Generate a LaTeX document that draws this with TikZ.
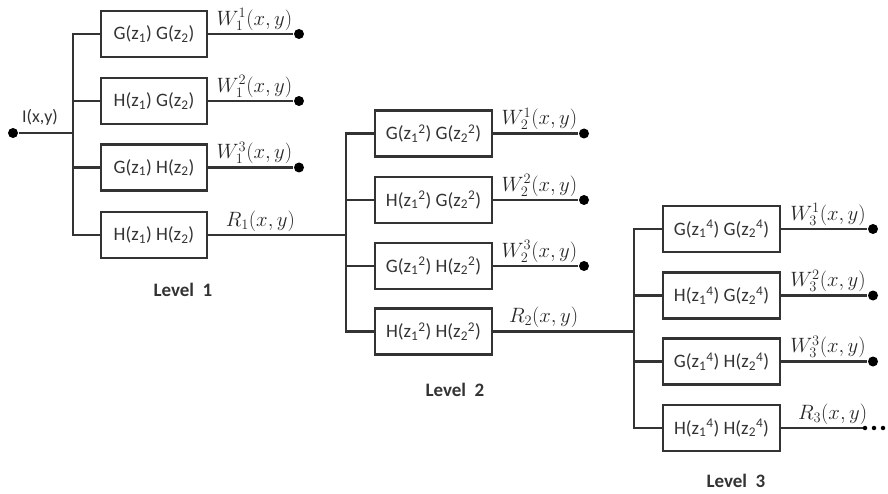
\documentclass[tikz,border=0pt]{standalone}
\usepackage{fontspec}
\setmainfont{Carlito}
\begin{document}
\begin{tikzpicture}[x=1pt,y=-1pt,
  line width=2.2pt, draw=black!80,
  boxa/.style={draw=black!80, line width=2.2pt, minimum width=106pt, minimum height=46pt, inner sep=0pt, font=\fontsize{19}{21}\selectfont, text=black!80},
  boxb/.style={boxa, minimum width=117pt},
  endpt/.style={circle, fill=black, inner sep=0pt, minimum size=10pt},
  smalldot/.style={circle, fill=black, inner sep=0pt, minimum size=4.5pt},
  lbl/.style={font=\fontsize{20.74}{22}\selectfont, text=black!85, inner sep=2.5pt, xshift=4pt},
  lvl/.style={font=\bfseries\fontsize{19}{21}\selectfont, text=black!80}]
\useasboundingbox (0,0) rectangle (888,494);
\newcommand{\zz}[2]{z\textsubscript{#1}\textsuperscript{#2}}
% Level 1
\node[boxa] (b11) at (154,34) {G(z\textsubscript{1}) G(z\textsubscript{2})};
\node[boxa] (b12) at (154,101) {H(z\textsubscript{1}) G(z\textsubscript{2})};
\node[boxa] (b13) at (154,167.5) {G(z\textsubscript{1}) H(z\textsubscript{2})};
\node[boxa] (b14) at (154,235) {H(z\textsubscript{1}) H(z\textsubscript{2})};
\node[endpt] (in) at (13,133) {};
\coordinate (j1) at (73,133);
\node[font=\fontsize{18}{20}\selectfont, text=black!80] (inl) at (40,117) {I(x,y)};
\draw (in) -- (j1);
\draw (b11.west) -| (j1);
\draw (b12.west) -| (j1);
\draw (b13.west) -| (j1);
\draw (b14.west) -| (j1);
\node[endpt] (d11) at (299,34) {};
\node[endpt] (d12) at (299,101) {};
\node[endpt] (d13) at (299,167.5) {};
\draw (b11.east) -- (d11) node[midway, above, lbl] {$W_1^1(x,y)$};
\draw (b12.east) -- (d12) node[midway, above, lbl] {$W_1^2(x,y)$};
\draw (b13.east) -- (d13) node[midway, above, lbl] {$W_1^3(x,y)$};
\node[lvl] (lv1) at (183,290) {Level\ \ 1};
% Level 2
\coordinate (j2) at (346,235);
\draw (b14.east) -- (j2) node[pos=0.35, above, lbl] {$R_1(x,y)$};
\node[boxb] (b21) at (433.5,133.5) {G(\zz{1}{2}) G(\zz{2}{2})};
\node[boxb] (b22) at (433.5,200) {H(\zz{1}{2}) G(\zz{2}{2})};
\node[boxb] (b23) at (433.5,266) {G(\zz{1}{2}) H(\zz{2}{2})};
\node[boxb] (b24) at (433.5,331.5) {H(\zz{1}{2}) H(\zz{2}{2})};
\draw (b21.west) -| (j2);
\draw (b22.west) -| (j2);
\draw (b23.west) -| (j2);
\draw (b24.west) -| (j2);
\node[endpt] (d21) at (584,133.5) {};
\node[endpt] (d22) at (584,200) {};
\node[endpt] (d23) at (584,266) {};
\draw (b21.east) -- (d21) node[midway, above, lbl] {$W_2^1(x,y)$};
\draw (b22.east) -- (d22) node[midway, above, lbl] {$W_2^2(x,y)$};
\draw (b23.east) -- (d23) node[midway, above, lbl] {$W_2^3(x,y)$};
\node[lvl] (lv2) at (455,390) {Level\ \ 2};
% Level 3
\coordinate (j3) at (634,331.5);
\draw (b24.east) -- (j3) node[pos=0.33, above, lbl] {$R_2(x,y)$};
\node[boxb] (b31) at (721.5,229) {G(\zz{1}{4}) G(\zz{2}{4})};
\node[boxb] (b32) at (721.5,295.5) {H(\zz{1}{4}) G(\zz{2}{4})};
\node[boxb] (b33) at (721.5,361.5) {G(\zz{1}{4}) H(\zz{2}{4})};
\node[boxb] (b34) at (721.5,428) {H(\zz{1}{4}) H(\zz{2}{4})};
\draw (b31.west) -| (j3);
\draw (b32.west) -| (j3);
\draw (b33.west) -| (j3);
\draw (b34.west) -| (j3);
\node[endpt] (d31) at (873,229) {};
\node[endpt] (d32) at (873,295.5) {};
\node[endpt] (d33) at (873,361.5) {};
\draw (b31.east) -- (d31) node[midway, above, lbl] {$W_3^1(x,y)$};
\draw (b32.east) -- (d32) node[midway, above, lbl] {$W_3^2(x,y)$};
\draw (b33.east) -- (d33) node[midway, above, lbl] {$W_3^3(x,y)$};
\coordinate (e34) at (863,428);
\draw (b34.east) -- (e34) node[pos=0.58, above, lbl] {$R_3(x,y)$};
\node[smalldot] (p1) at (865,428) {};
\node[smalldot] (p2) at (874,428) {};
\node[smalldot] (p3) at (883,428) {};
\node[lvl] (lv3) at (736,481) {Level\ \ 3};
\end{tikzpicture}
\end{document}
